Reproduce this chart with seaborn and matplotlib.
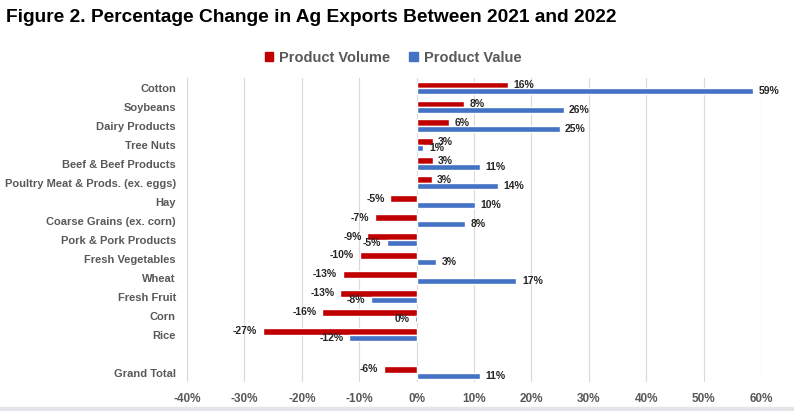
import pandas as pd
import matplotlib.pyplot as plt
import seaborn as sns

# -----------------------------
# Data (percent change 2021 -> 2022)
# -----------------------------
products = [
    "Cotton", "Soybeans", "Dairy Products", "Tree Nuts",
    "Beef & Beef Products", "Poultry Meat & Prods. (ex. eggs)", "Hay",
    "Coarse Grains (ex. corn)", "Pork & Pork Products", "Fresh Vegetables",
    "Wheat", "Fresh Fruit", "Corn", "Rice", " ", "Grand Total",
]
volume = [15.9, 8.2, 5.6, 2.8, 2.8, 2.6, -4.6, -7.3, -8.6, -9.9,
          -12.9, -13.3, -16.4, -26.8, None, -5.7]
value = [58.6, 25.6, 24.9, 1.2, 11.0, 14.1, 10.1, 8.4, -5.2, 3.4,
         17.4, -8.0, -0.3, -11.8, None, 11.0]
series = ["Product Volume", "Product Value"]
ticks = [-40, -30, -20, -10, 0, 10, 20, 30, 40, 50, 60]

df = pd.DataFrame({
    "Product": products * 2,
    "Series": [series[0]] * len(products) + [series[1]] * len(products),
    "Change": volume + value,
})

# -----------------------------
# Style
# -----------------------------
sns.set_style("white")
plt.rcParams["font.family"] = ["Liberation Sans", "DejaVu Sans"]
plt.rcParams["font.weight"] = "bold"

red = "#C00000"
blue = "#4472C4"
gray = "#595959"

fig = plt.figure(figsize=(7.94, 4.11), dpi=100)
ax = fig.add_axes([187 / 794, 1 - 382 / 411, (761 - 187) / 794, (382 - 78.5) / 411])

sns.barplot(
    data=df, y="Product", x="Change", hue="Series",
    order=products, hue_order=series,
    palette=[red, blue], width=0.68, orient="h",
    ax=ax, legend=False, saturation=1,
)

# -----------------------------
# Bar labels (value read back from each bar)
# -----------------------------
for container in ax.containers:
    for bar in container:
        if bar is None:
            continue
        v = bar.get_width()
        y = bar.get_y() + bar.get_height() / 2
        ax.annotate(f"{int(round(v))}%", (v, y),
                    xytext=(4 if v >= 0 else -4, 0), textcoords="offset points",
                    ha="left" if v >= 0 else "right", va="center",
                    fontsize=7.5, color="#262626", fontweight="bold")

# -----------------------------
# Axes
# -----------------------------
ax.set_xlim(-40, 60)
ax.set_xticks(ticks)
ax.set_xticklabels([f"{t}%" for t in ticks], color=gray, fontsize=8.5)
ax.tick_params(axis="y", labelsize=8, labelcolor=gray, length=0, pad=8)
ax.tick_params(axis="x", length=0, pad=8)
ax.set_xlabel("")
ax.set_ylabel("")
ax.grid(axis="x", color="#D9D9D9", linewidth=0.8)
ax.set_axisbelow(True)
for spine in ax.spines.values():
    spine.set_visible(False)

# -----------------------------
# Legend and title
# -----------------------------
handles = [plt.Rectangle((0, 0), 1, 1, color=c) for c in [red, blue]]
fig.legend(handles, series, loc="center", bbox_to_anchor=(0.495, 1 - 58 / 411),
           ncol=2, frameon=False, fontsize=10.5, handlelength=0.6, handleheight=0.6,
           columnspacing=1.3, handletextpad=0.4, labelcolor=gray)

fig.text(0.007, 1 - 17 / 411, "Figure 2. Percentage Change in Ag Exports Between 2021 and 2022",
         fontsize=13.8, fontweight="bold", color="black", va="center", ha="left")

# gray strip at the bottom
fig.patches.append(plt.Rectangle((0, 0), 1, 4 / 411, transform=fig.transFigure,
                                 color="#E3E5E8", zorder=0))

fig.savefig("out.png", dpi=100)
